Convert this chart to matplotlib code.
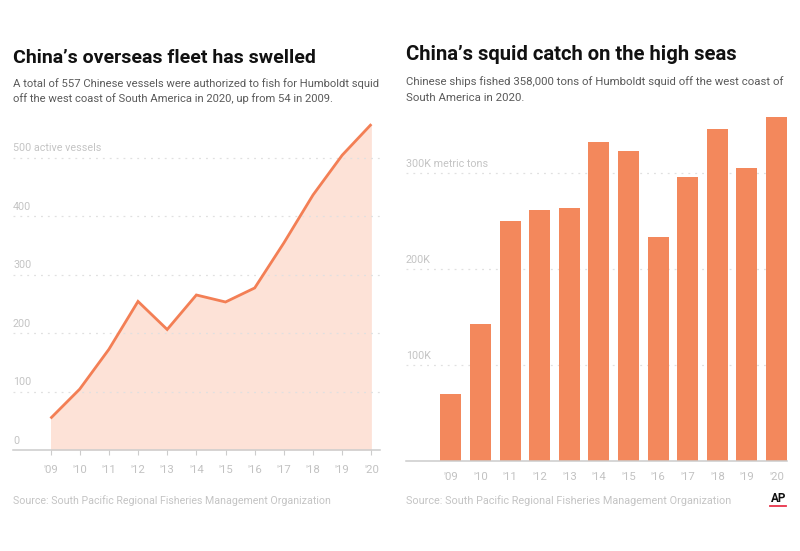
import matplotlib
matplotlib.use("Agg")
import matplotlib.pyplot as plt
from matplotlib.lines import Line2D

plt.rcParams['font.family'] = ['Roboto', 'DejaVu Sans']

W, H = 800, 551
years = ["'09", "'10", "'11", "'12", "'13", "'14", "'15", "'16", "'17", "'18", "'19", "'20"]
vessels = [54, 104, 172, 254, 206, 265, 253, 277, 354, 436, 504, 557]
catch_k = [70, 142, 250, 261, 263.5, 332, 323, 233, 296, 346, 305, 358]
vessel_ticks = [0, 100, 200, 300, 400, 500]
vessel_tick_labels = ["0", "100", "200", "300", "400", "500 active vessels"]
catch_ticks = [100, 200, 300]
catch_tick_labels = ["100K", "200K", "300K metric tons"]

ORANGE_LINE = '#f37f55'
ORANGE_FILL = '#fde2d7'
ORANGE_BAR = '#f3885c'
LABEL = '#c4c4c4'
TICKLBL = '#c2c2c2'
GRID = '#e0e0e0'
AXIS = '#cccccc'
SUB = '#5a5a5a'

fig = plt.figure(figsize=(W/100, H/100), dpi=100, facecolor='white')

def make_ax(left, right, top, bottom):
    return fig.add_axes([left/W, 1-bottom/H, (right-left)/W, (bottom-top)/H])

axl = make_ax(13, 380, 100, 450)
x0 = (50.5-13)/29.17
xs = list(range(len(years)))
axl.set_xlim(-x0, -x0 + 367/29.17)
axl.set_ylim(0, 350/0.585)
axl.fill_between(xs, vessels, 0, color=ORANGE_FILL, lw=0, zorder=1)
axl.plot(xs, vessels, color=ORANGE_LINE, lw=2.0, solid_joinstyle='miter', solid_capstyle='butt', zorder=3)
for t, lab in zip(vessel_ticks, vessel_tick_labels):
    if t > 0:
        axl.axhline(t, color=GRID, lw=0.9, ls=(0, (1.5, 4)), zorder=2)
    axl.annotate(lab, xy=(0, t), xycoords=('axes fraction', 'data'), xytext=(0, 3),
                 textcoords='offset points', fontsize=7.75, color=LABEL, ha='left', va='bottom')

axr = make_ax(406, 787, 100, 460.7)
x0r = (451-406)/29.6
axr.set_xlim(-x0r, -x0r + 381/29.6)
axr.set_ylim(0, 360.7/0.96)
axr.bar(xs, catch_k, width=21/29.6, color=ORANGE_BAR, lw=0, zorder=2)
for t, lab in zip(catch_ticks, catch_tick_labels):
    axr.axhline(t, color=GRID, lw=0.9, ls=(0, (1.5, 4)), zorder=1)
    axr.annotate(lab, xy=(0, t), xycoords=('axes fraction', 'data'), xytext=(0, 3),
                 textcoords='offset points', fontsize=7.75, color=LABEL, ha='left', va='bottom')

for ax, size in ((axl, 3.5), (axr, 0)):
    ax.patch.set_alpha(0)
    for s in ('top', 'left', 'right'):
        ax.spines[s].set_visible(False)
    ax.spines['bottom'].set_color(AXIS)
    ax.spines['bottom'].set_linewidth(1.1)
    ax.set_yticks([])
    ax.set_xticks(xs)
    ax.set_xticklabels(years, fontsize=8.2, color=TICKLBL)
    ax.tick_params(axis='x', length=size, width=0.8, color=AXIS, pad=8 if size == 0 else 7.5)

def txt(x, y, s, **kw):
    return fig.text(x/W, 1-y/H, s, va='baseline', ha='left', **kw)

txt(13, 63, "China’s overseas fleet has swelled", fontsize=14, fontweight='bold', color='#111111')
txt(13, 87, "A total of 557 Chinese vessels were authorized to fish for Humboldt squid", fontsize=8.07, color=SUB)
txt(13, 102.5, "off the west coast of South America in 2020, up from 54 in 2009.", fontsize=8.07, color=SUB)
txt(13, 503.5, "Source: South Pacific Regional Fisheries Management Organization", fontsize=7.67, color=LABEL)

txt(406, 60, "China’s squid catch on the high seas", fontsize=14.6, fontweight='bold', color='#111111')
txt(406, 85, "Chinese ships fished 358,000 tons of Humboldt squid off the west coast of", fontsize=8.22, color=SUB)
txt(406, 101, "South America in 2020.", fontsize=8.22, color=SUB)
txt(406, 503.5, "Source: South Pacific Regional Fisheries Management Organization", fontsize=7.85, color=LABEL)

txt(771, 502.5, "AP", fontsize=8.5, fontweight='bold', color='#111111')
fig.add_artist(Line2D([770/W, 786/W], [1-505.7/H, 1-505.7/H], color='#e8334a', lw=1.3))

fig.savefig("out.png", dpi=100, facecolor='white')
